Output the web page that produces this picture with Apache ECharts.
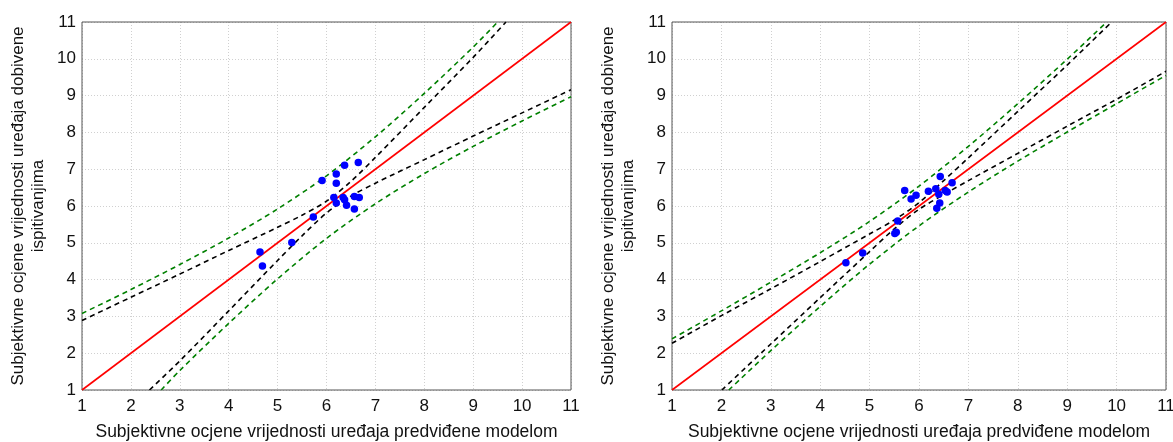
<!DOCTYPE html>
<html>
<head>
<meta charset="utf-8">
<script src="https://cdn.jsdelivr.net/npm/echarts@6/dist/echarts.min.js"></script>
<style>
html,body{margin:0;padding:0;background:#fff;}
#chart{width:1173px;height:442px;}
</style>
</head>
<body>
<div id="chart"></div>
<script>
// ---- data ----
const axisTicks = [1, 2, 3, 4, 5, 6, 7, 8, 9, 10, 11];
const xTitle = 'Subjektivne ocjene vrijednosti uređaja predviđene modelom';
const yTitle = 'Subjektivne ocjene vrijednosti uređaja dobivene\nispitivanjima';

const refLineX = [1, 11];
const refLineY = [1, 11];

// Left panel
const leftObsX = [4.64, 4.69, 5.29, 5.73, 5.91, 6.20, 6.20, 6.37, 6.65, 6.15, 6.20, 6.34, 6.37, 6.41, 6.57, 6.67, 6.57];
const leftObsY = [4.75, 4.37, 5.01, 5.70, 6.69, 6.87, 6.62, 7.11, 7.18, 6.23, 6.08, 6.23, 6.17, 6.02, 6.26, 6.23, 5.92];
const leftConfUpX = [1, 2, 3, 4, 5, 5.5, 6, 6.5, 7, 8, 9, 9.67];
const leftConfUpY = [2.89, 3.52, 4.15, 4.79, 5.42, 5.75, 6.13, 6.67, 7.32, 8.68, 10.04, 11];
const leftConfLoX = [2.38, 3, 4, 5, 5.5, 6, 6.5, 7, 8, 9, 10, 11];
const leftConfLoY = [1, 1.79, 3.15, 4.52, 5.19, 5.81, 6.27, 6.62, 7.26, 7.90, 8.53, 9.16];
const leftPredUpX = [1, 2, 3, 4, 5, 6, 7, 8, 9, 9.5];
const leftPredUpY = [3.08, 3.73, 4.41, 5.13, 5.92, 6.82, 7.88, 9.06, 10.32, 11];
const leftPredLoX = [2.62, 3, 4, 5, 6, 7, 8, 9, 10, 11];
const leftPredLoY = [1, 1.53, 2.81, 4.02, 5.12, 6.06, 6.88, 7.62, 8.31, 8.97];

// Right panel
const rightObsX = [4.52, 4.86, 5.51, 5.54, 5.57, 5.71, 5.84, 5.94, 6.19, 6.34, 6.40, 6.43, 6.53, 6.57, 6.42, 6.36, 6.67];
const rightObsY = [4.46, 4.72, 5.25, 5.29, 5.59, 6.42, 6.19, 6.29, 6.40, 6.47, 6.32, 6.80, 6.42, 6.38, 6.08, 5.94, 6.63];
const rightConfUpX = [1, 2, 3, 4, 5, 5.5, 6, 6.5, 7, 8, 9, 9.9];
const rightConfUpY = [2.27, 3.02, 3.75, 4.49, 5.24, 5.62, 6.09, 6.69, 7.31, 8.57, 9.83, 11];
const rightConfLoX = [2.01, 3, 4, 5, 5.5, 6, 6.5, 7, 8, 9, 10, 11];
const rightConfLoY = [1, 2.25, 3.51, 4.76, 5.38, 5.91, 6.31, 6.69, 7.43, 8.17, 8.90, 9.66];
const rightPredUpX = [1, 2, 3, 4, 5, 6, 7, 8, 9, 9.8];
const rightPredUpY = [2.39, 3.15, 3.93, 4.73, 5.58, 6.54, 7.62, 8.78, 9.99, 11];
const rightPredLoX = [2.15, 3, 4, 5, 6, 7, 8, 9, 10, 11];
const rightPredLoY = [1, 2.07, 3.27, 4.42, 5.46, 6.38, 7.22, 8.01, 8.78, 9.55];

// ---- build ----
const zip = (xs, ys) => xs.map((x, i) => [x, ys[i]]);
const FONT = "'Liberation Sans', Arial, sans-serif";

function xAxisFor(gi) {
  return {
    gridIndex: gi, type: 'value', min: axisTicks[0], max: axisTicks[axisTicks.length - 1], interval: 1,
    name: xTitle, nameLocation: 'middle', nameGap: 33,
    nameTextStyle: { fontFamily: FONT, fontSize: 17.5, color: '#111' },
    axisLine: { show: false }, axisTick: { show: false },
    axisLabel: { fontFamily: FONT, fontSize: 17, color: '#111', margin: 8 },
    splitLine: { show: true, lineStyle: { color: '#d0d0d0', type: [1, 2], width: 1 } }
  };
}
function yAxisFor(gi) {
  return {
    gridIndex: gi, type: 'value', min: axisTicks[0], max: axisTicks[axisTicks.length - 1], interval: 1,
    name: yTitle, nameLocation: 'middle', nameGap: 34,
    nameTextStyle: { fontFamily: FONT, fontSize: 17, color: '#111', lineHeight: 20, align: 'center' },
    axisLine: { show: false }, axisTick: { show: false },
    axisLabel: { fontFamily: FONT, fontSize: 17, color: '#111', margin: 6 },
    splitLine: { show: true, lineStyle: { color: '#d0d0d0', type: [1, 2], width: 1 } }
  };
}
function lineSeries(gi, data, color, dashed, w) {
  return {
    type: 'line', xAxisIndex: gi, yAxisIndex: gi, data: data, smooth: dashed ? 0.3 : false,
    showSymbol: false, symbol: 'none', silent: true, clip: true,
    lineStyle: { color: color, width: w, type: dashed ? [5, 4] : 'solid' }
  };
}
function scatterSeries(gi, data) {
  return {
    type: 'scatter', xAxisIndex: gi, yAxisIndex: gi, data: data, symbolSize: 7.5,
    itemStyle: { color: '#0000ff', opacity: 1 }, z: 5
  };
}

const option = {
  animation: false,
  backgroundColor: '#ffffff',
  grid: [
    { left: 82, top: 22, width: 489, height: 368, outerBoundsMode: 'none', containLabel: false, show: true, borderColor: '#555', borderWidth: 1, backgroundColor: 'transparent', z: 3 },
    { left: 672, top: 22, width: 494, height: 368, outerBoundsMode: 'none', containLabel: false, show: true, borderColor: '#555', borderWidth: 1, backgroundColor: 'transparent', z: 3 }
  ],
  xAxis: [xAxisFor(0), xAxisFor(1)],
  yAxis: [yAxisFor(0), yAxisFor(1)],
  series: [
    lineSeries(0, zip(leftPredUpX, leftPredUpY), '#008000', true, 1.6),
    lineSeries(0, zip(leftPredLoX, leftPredLoY), '#008000', true, 1.6),
    lineSeries(0, zip(leftConfUpX, leftConfUpY), '#000000', true, 1.6),
    lineSeries(0, zip(leftConfLoX, leftConfLoY), '#000000', true, 1.6),
    lineSeries(0, zip(refLineX, refLineY), '#ff0000', false, 1.6),
    scatterSeries(0, zip(leftObsX, leftObsY)),
    lineSeries(1, zip(rightPredUpX, rightPredUpY), '#008000', true, 1.6),
    lineSeries(1, zip(rightPredLoX, rightPredLoY), '#008000', true, 1.6),
    lineSeries(1, zip(rightConfUpX, rightConfUpY), '#000000', true, 1.6),
    lineSeries(1, zip(rightConfLoX, rightConfLoY), '#000000', true, 1.6),
    lineSeries(1, zip(refLineX, refLineY), '#ff0000', false, 1.6),
    scatterSeries(1, zip(rightObsX, rightObsY))
  ]
};
const chart = echarts.init(document.getElementById('chart'), null, { renderer: 'canvas' });
chart.setOption(option);
</script>
</body>
</html>
